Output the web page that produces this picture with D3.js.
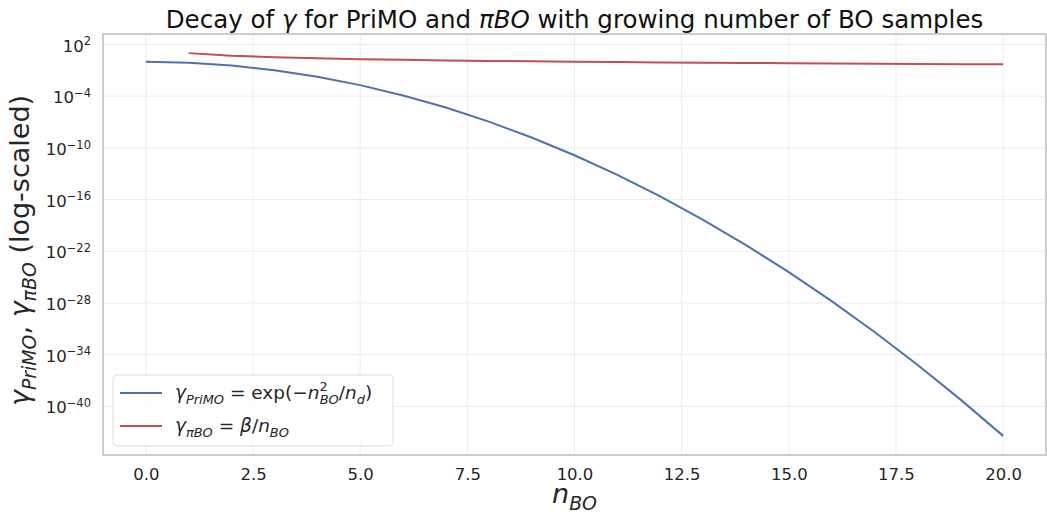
<!DOCTYPE html>
<html>
<head>
<meta charset="utf-8">
<script src="https://cdn.jsdelivr.net/npm/d3@7"></script>
<style>
  body { margin: 0; background: #fff; }
  svg { font-family: "DejaVu Sans", sans-serif; }
  .grid line { stroke: #ebebeb; stroke-width: 1; }
</style>
</head>
<body>
<div class="graph"></div>
<script>
// n_BO values (x) and the two decay series
var nPrimo = [0, 1, 2, 3, 4, 5, 6, 7, 8, 9, 10, 11, 12, 13, 14, 15, 16, 17, 18, 19, 20];
var gammaPrimo = [1, 7.79e-1, 3.68e-1, 1.05e-1, 1.83e-2, 1.93e-3, 1.23e-4, 4.79e-6, 1.13e-7,
                  1.61e-9, 1.39e-11, 7.29e-14, 2.32e-16, 4.48e-19, 5.24e-22, 3.73e-25, 1.60e-28,
                  4.19e-32, 6.64e-36, 6.38e-40, 3.72e-44];
var nPibo = [1, 2, 3, 4, 5, 6, 7, 8, 9, 10, 11, 12, 13, 14, 15, 16, 17, 18, 19, 20];
var gammaPibo = [10, 5, 3.33, 2.5, 2, 1.67, 1.43, 1.25, 1.11, 1, 0.909, 0.833, 0.769, 0.714,
                 0.667, 0.625, 0.588, 0.556, 0.526, 0.5];
var xTicks = [0, 2.5, 5, 7.5, 10, 12.5, 15, 17.5, 20];
var yTickExp = [2, -4, -10, -16, -22, -28, -34, -40];

var margin = {top: 34, right: 1, bottom: 59, left: 103},
    W = 1047, H = 514,
    width = W - margin.left - margin.right,
    height = H - margin.top - margin.bottom;

var svg = d3.select(".graph").append("svg")
    .attr("width", W)
    .attr("height", H);

var g = svg.append("g")
    .attr("transform", "translate(" + margin.left + "," + margin.top + ")");

var x = d3.scaleLinear().domain([-1, 21]).range([0, width]);
var y = d3.scaleLog().domain([Math.pow(10, -45.65), Math.pow(10, 3.22)]).range([height, 0]);

var yTicks = yTickExp.map(function(e) { return Math.pow(10, e); });

// grid
g.append("g").attr("class", "grid")
  .selectAll("line").data(xTicks).enter().append("line")
    .attr("x1", function(d) { return x(d); }).attr("x2", function(d) { return x(d); })
    .attr("y1", 0).attr("y2", height);
g.append("g").attr("class", "grid")
  .selectAll("line").data(yTicks).enter().append("line")
    .attr("y1", function(d) { return y(d); }).attr("y2", function(d) { return y(d); })
    .attr("x1", 0).attr("x2", width);

// axes
var xAxis = d3.axisBottom(x).tickValues(xTicks).tickSize(0).tickPadding(13)
    .tickFormat(d3.format(".1f"));
var gx = g.append("g").attr("transform", "translate(0," + height + ")").call(xAxis)
    .attr("font-family", "DejaVu Sans").attr("font-size", 16.5);
gx.select(".domain").remove();
gx.selectAll("text").attr("fill", "#262626");

var yAxis = d3.axisLeft(y).tickValues(yTicks).tickSize(0).tickPadding(12).tickFormat("");
var gy = g.append("g").call(yAxis)
    .attr("font-family", "DejaVu Sans").attr("font-size", 16.5);
gy.select(".domain").remove();
gy.selectAll(".tick").each(function(d, i) {
  var t = d3.select(this).select("text").attr("dy", "0.4em").attr("fill", "#262626");
  t.append("tspan").text("10");
  t.append("tspan").attr("dy", "-0.55em").style("font-size", "11.5px")
    .text(yTickExp[i] < 0 ? "\u2212" + Math.abs(yTickExp[i]) : yTickExp[i]);
});

// frame
g.append("rect")
  .attr("x", 0).attr("y", 0).attr("width", width).attr("height", height)
  .attr("fill", "none").attr("stroke", "#cccccc").attr("stroke-width", 2);

// lines
var line = d3.line()
    .x(function(d) { return x(d[0]); })
    .y(function(d) { return y(d[1]); });

g.append("path")
  .datum(d3.zip(nPrimo, gammaPrimo))
  .attr("fill", "none").attr("stroke", "#4c72b0").attr("stroke-width", 2)
  .attr("d", line);

g.append("path")
  .datum(d3.zip(nPibo, gammaPibo))
  .attr("fill", "none").attr("stroke", "#c44e52").attr("stroke-width", 2)
  .attr("d", line);

// rich text helper: parts = [text, italic, shift(0 / "sub" / "sup"), dx]
function rich(sel, parts, size) {
  var cur = 0;
  parts.forEach(function(p) {
    var s = p[2] === "sub" ? size * 0.25 : (p[2] === "sup" ? -size * 0.42 : 0);
    var ts = sel.append("tspan")
      .attr("dy", (s - cur))
      .style("font-style", p[1] ? "italic" : "normal")
      .style("font-size", (p[2] ? size * 0.7 : size) + "px")
      .text(p[0]);
    if (p[3]) ts.attr("dx", p[3]);
    cur = s;
  });
  return sel;
}

// title
rich(svg.append("text")
    .attr("x", margin.left + width / 2).attr("y", 28)
    .attr("text-anchor", "middle").attr("fill", "#111"),
  [["Decay of ", false, 0], ["\u03b3", true, 0], [" for PriMO and ", false, 0],
   ["\u03c0BO", true, 0], [" with growing number of BO samples", false, 0]], 24.5);

// y label
rich(svg.append("text")
    .attr("transform", "translate(29," + (margin.top + height / 2 + 6) + ") rotate(-90)")
    .attr("text-anchor", "middle").attr("fill", "#262626"),
  [["\u03b3", true, 0], ["PriMO", true, "sub"], [", ", false, 0], ["\u03b3", true, 0],
   ["\u03c0BO", true, "sub"], [" (log-scaled)", false, 0]], 27);

// x label
rich(svg.append("text")
    .attr("x", margin.left + width / 2).attr("y", 503)
    .attr("text-anchor", "middle").attr("fill", "#262626"),
  [["n", true, 0], ["BO", true, "sub"]], 27);

// legend
var lg = g.append("g").attr("transform", "translate(10,341)");
lg.append("rect")
  .attr("width", 280).attr("height", 71).attr("rx", 4)
  .attr("fill", "#fff").attr("fill-opacity", 0.8)
  .attr("stroke", "#dddddd").attr("stroke-width", 1);

var legItems = [
  {color: "#4c72b0", parts: [["\u03b3", true, 0], ["PriMO", true, "sub"], [" = exp(\u2212", false, 0],
     ["n", true, 0], ["2", false, "sup"], ["BO", true, "sub", -8], ["/", false, 0], ["n", true, 0], ["d", true, "sub"], [")", false, 0]]},
  {color: "#c44e52", parts: [["\u03b3", true, 0], ["\u03c0BO", true, "sub"], [" = ", false, 0],
     ["\u03b2", true, 0], ["/", false, 0], ["n", true, 0], ["BO", true, "sub"]]}
];

legItems.forEach(function(d, i) {
  var yy = 18 + i * 33;
  lg.append("line").attr("x1", 7).attr("x2", 49).attr("y1", yy).attr("y2", yy)
    .attr("stroke", d.color).attr("stroke-width", 2);
  rich(lg.append("text").attr("x", 62).attr("y", yy + 6).attr("fill", "#262626"), d.parts, 18.5);
});
</script>
</body>
</html>
